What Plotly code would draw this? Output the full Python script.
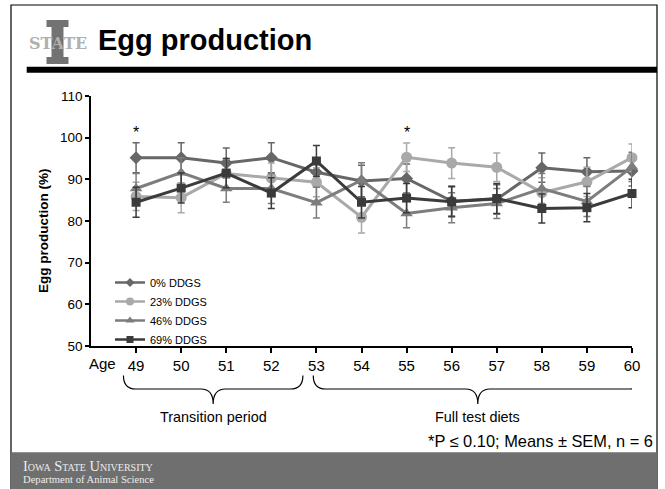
import plotly.graph_objects as go

# ---------------- data ----------------
ages = [49, 50, 51, 52, 53, 54, 55, 56, 57, 58, 59, 60]
series_names = ["0% DDGS", "23% DDGS", "46% DDGS", "69% DDGS"]
ddgs0 = [95.2, 95.2, 93.9, 95.2, 91.7, 89.6, 90.2, 84.8, 85.2, 92.8, 91.8, 92.0]
ddgs23 = [85.9, 85.6, 91.4, 90.3, 89.3, 80.9, 95.3, 93.9, 92.9, 86.8, 89.4, 95.2]
ddgs46 = [87.8, 91.6, 87.8, 87.8, 84.4, 89.8, 81.8, 83.2, 84.2, 87.8, 84.7, 93.0]
ddgs69 = [84.5, 87.9, 91.5, 86.7, 94.4, 84.5, 85.5, 84.6, 85.4, 83.0, 83.2, 86.6]
sem0 = [3.6, 3.6, 3.6, 3.6, 3.5, 3.8, 3.5, 3.6, 3.5, 3.5, 3.4, 3.6]
sem23 = [3.4, 3.6, 3.5, 3.6, 3.5, 3.8, 3.4, 3.7, 3.4, 3.6, 3.5, 3.3]
sem46 = [3.6, 3.6, 3.3, 3.6, 3.7, 4.2, 3.4, 3.6, 3.6, 3.6, 3.6, 3.5]
sem69 = [3.6, 3.6, 3.5, 3.7, 3.7, 3.8, 3.5, 3.6, 3.6, 3.5, 3.4, 3.4]
sig_ages = [49, 55]
sig_level = [101.3, 101.3]
y_ticks = [50, 60, 70, 80, 90, 100, 110]
periods = ["Transition period", "Full test diets"]
period_spans = [(48.72, 52.70), (52.93, 60.23)]

# ---------------- style ----------------
FONT = "Liberation Sans, Arial, sans-serif"
SERIF = "Liberation Serif, Times New Roman, serif"
W, H = 665, 489
L, R, T, B = 91, 632, 96, 346


def fx(p):
    return (p - L) / (R - L)


def fy(p):
    return (B - p) / (B - T)


styles = [
    dict(color="#676767", symbol="diamond", size=10, lsize=7),
    dict(color="#a9a9a9", symbol="circle", size=11, lsize=8),
    dict(color="#7d7d7d", symbol="triangle-up", size=11, lsize=8),
    dict(color="#3b3b3b", symbol="square", size=9, lsize=7),
]
values = [ddgs0, ddgs23, ddgs46, ddgs69]
sems = [sem0, sem23, sem46, sem69]

fig = go.Figure()
for name, vals, err, st in zip(series_names, values, sems, styles):
    fig.add_trace(go.Scatter(
        x=ages, y=vals, name=name, mode="lines+markers", showlegend=False,
        line=dict(color=st["color"], width=3),
        marker=dict(color=st["color"], symbol=st["symbol"], size=st["size"]),
        error_y=dict(type="data", array=err, visible=True, color=st["color"],
                     thickness=1.5, width=3.5),
        cliponaxis=False,
    ))
# legend entries (smaller keys, no data)
for name, st in zip(series_names, styles):
    fig.add_trace(go.Scatter(
        x=[None], y=[None], name=name, mode="lines+markers", showlegend=True,
        line=dict(color=st["color"], width=2.5),
        marker=dict(color=st["color"], symbol=st["symbol"], size=st["lsize"]),
    ))

shapes = []
# slide border
shapes.append(dict(type="rect", xref="paper", yref="paper",
                   x0=fx(11), x1=fx(657), y0=fy(489), y1=fy(5),
                   line=dict(color="black", width=1.2), fillcolor="rgba(0,0,0,0)", layer="below"))
# black header bar
shapes.append(dict(type="rect", xref="paper", yref="paper",
                   x0=fx(26.7), x1=fx(657), y0=fy(72.7), y1=fy(66.7),
                   line=dict(width=0), fillcolor="black"))
# footer band
shapes.append(dict(type="rect", xref="paper", yref="paper",
                   x0=fx(11), x1=fx(657), y0=fy(489), y1=fy(452.3),
                   line=dict(width=0), fillcolor="#6f6f6f"))
# logo "I"
for (a, b, c, d) in [(46.5, 68.5, 20, 27), (51.5, 63.5, 20, 64), (46.5, 68.5, 57, 64)]:
    shapes.append(dict(type="rect", xref="paper", yref="paper",
                       x0=fx(a), x1=fx(b), y0=fy(d), y1=fy(c),
                       line=dict(width=0), fillcolor="#727272"))

# braces under the x axis (in data x, paper y)
yT, yH, yB = fy(375.5), fy(389), fy(404)
for (x0, x1) in period_spans:
    xc = (x0 + x1) / 2
    r = 0.27
    path = (f"M{x0},{yT} Q{x0},{yH} {x0 + r},{yH} L{xc - r},{yH} "
            f"Q{xc},{yH} {xc},{yB} Q{xc},{yH} {xc + r},{yH} "
            f"L{x1 - r},{yH} Q{x1},{yH} {x1},{yT}")
    shapes.append(dict(type="path", xref="x", yref="paper", path=path,
                       line=dict(color="black", width=1.2)))

annotations = []
# title
annotations.append(dict(text="<b>Egg production</b>", xref="paper", yref="paper",
                        x=fx(96), y=fy(40), xanchor="left", yanchor="middle",
                        showarrow=False, font=dict(family=FONT, size=29, color="black")))
# logo text
annotations.append(dict(text="<b>STATE</b>", xref="paper", yref="paper",
                        x=fx(58), y=fy(43), xanchor="center", yanchor="middle",
                        showarrow=False,
                        font=dict(family="DejaVu Serif, serif", size=16, color="#b0b0b0")))
# y axis title
annotations.append(dict(text="<b>Egg production (%)</b>", xref="paper", yref="paper",
                        x=fx(43), y=fy(231), xanchor="center", yanchor="middle",
                        textangle=-90, showarrow=False,
                        font=dict(family=FONT, size=13.5, color="black")))
# Age label
annotations.append(dict(text="Age", xref="paper", yref="paper",
                        x=fx(102), y=fy(363), xanchor="center", yanchor="middle",
                        showarrow=False, font=dict(family=FONT, size=15, color="black")))
# significance asterisks
for a, lv in zip(sig_ages, sig_level):
    annotations.append(dict(text="*", xref="x", yref="y", x=a, y=lv,
                            xanchor="center", yanchor="middle", showarrow=False,
                            font=dict(family=FONT, size=16, color="black")))
# period labels
for name, (x0, x1) in zip(periods, period_spans):
    annotations.append(dict(text=name, xref="x", yref="paper", x=(x0 + x1) / 2, y=fy(417),
                            xanchor="center", yanchor="middle", showarrow=False,
                            font=dict(family=FONT, size=14.4, color="black")))
# footnote
annotations.append(dict(text="*P ≤ 0.10; Means ± SEM, n = 6", xref="paper", yref="paper",
                        x=fx(655), y=fy(441), xanchor="right", yanchor="middle",
                        showarrow=False, font=dict(family=FONT, size=16.4, color="black")))
# footer text
annotations.append(dict(text="Iowa State University", xref="paper", yref="paper",
                        x=fx(21), y=fy(466), xanchor="left", yanchor="middle",
                        showarrow=False,
                        font=dict(family=SERIF, size=14.5, color="#ececec", variant="small-caps")))
annotations.append(dict(text="Department of Animal Science", xref="paper", yref="paper",
                        x=fx(21), y=fy(479.5), xanchor="left", yanchor="middle",
                        showarrow=False, font=dict(family=SERIF, size=10.6, color="#ececec")))

fig.update_layout(
    width=W, height=H,
    margin=dict(l=L, r=W - R, t=T, b=H - B, pad=0),
    paper_bgcolor="white", plot_bgcolor="white",
    font=dict(family=FONT, color="black"),
    showlegend=True,
    legend=dict(x=fx(110), y=fy(268), xanchor="left", yanchor="top",
                bgcolor="rgba(0,0,0,0)", font=dict(family=FONT, size=11, color="black"),
                tracegroupgap=0, itemwidth=30),
    xaxis=dict(range=[48, 60], tickvals=ages, ticktext=[str(a) for a in ages],
               showgrid=False, zeroline=False, showline=True, linecolor="black", linewidth=1.5,
               ticks="outside", ticklen=5, tickwidth=1.5, tickcolor="black",
               tickfont=dict(family=FONT, size=15, color="black")),
    yaxis=dict(range=[50, 110], tickvals=y_ticks,
               showgrid=False, zeroline=False, showline=True, linecolor="black", linewidth=1.5,
               ticks="outside", ticklen=4, tickwidth=1.5, tickcolor="black",
               tickfont=dict(family=FONT, size=13.5, color="black")),
    shapes=shapes, annotations=annotations,
)

fig.write_html("out.html", config={"displayModeBar": False},
               post_script="document.body.style.margin='0px';")
